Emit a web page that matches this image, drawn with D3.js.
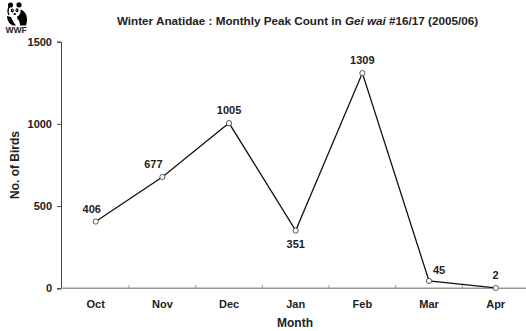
<!DOCTYPE html>
<html><head><meta charset="utf-8">
<script src="https://cdn.jsdelivr.net/npm/d3@7"></script>
<style>
html,body{margin:0;padding:0;background:#fff;}
svg text{font-family:"Liberation Sans",Arial,sans-serif;font-weight:bold;fill:#222;}
</style></head>
<body>
<svg id="c" width="526" height="331"></svg>
<script>
const months = ["Oct","Nov","Dec","Jan","Feb","Mar","Apr"];
const counts = [406,677,1005,351,1309,45,2];
const yTicks = [0,500,1000,1500];
const labelPos = ["above","above","above","below","above","right","above"];

const svg = d3.select("#c");
const x = d3.scaleBand().domain(months).range([62.4,529]);
const y = d3.scaleLinear().domain([0,1500]).range([288.3,41.7]);
const cx = d => x(d) + x.bandwidth()/2;

// Title
const t = svg.append("text").attr("x",297.5).attr("y",25).attr("text-anchor","middle").style("font-size","11.7px");
t.append("tspan").text("Winter Anatidae : Monthly Peak Count in ");
t.append("tspan").style("font-style","italic").text("Gei wai");
t.append("tspan").text(" #16/17 (2005/06)");

// y axis
const yAxis = svg.append("g").attr("transform","translate(61,0)")
  .call(d3.axisLeft(y).tickValues(yTicks).tickSize(4).tickPadding(5).tickFormat(d3.format("d")));
yAxis.select(".domain").attr("stroke","#444");
yAxis.selectAll(".tick line").attr("stroke","#444");
yAxis.selectAll("text").style("font-size","11px").attr("fill","#222");

// x axis
const xAxis = svg.append("g").attr("transform","translate(0,288.3)")
  .call(d3.axisBottom(x).tickSize(0).tickPadding(12));
xAxis.select(".domain").attr("stroke","#999").attr("stroke-width",1.5).attr("d","M61,0H526");
xAxis.selectAll("text").style("font-size","11px").attr("fill","#222");
svg.append("g").selectAll("line").data(months.slice(1)).join("line")
  .attr("x1",d=>x(d)).attr("x2",d=>x(d)).attr("y1",288.3).attr("y2",285).attr("stroke","#999");

// axis titles
svg.append("text").attr("transform","translate(19,165) rotate(-90)").attr("text-anchor","middle").style("font-size","12px").text("No. of Birds");
svg.append("text").attr("x",295).attr("y",327).attr("text-anchor","middle").style("font-size","12px").text("Month");

// line
const data = months.map((m,i)=>({m, v:counts[i], pos:labelPos[i]}));
svg.append("path").datum(data)
  .attr("d", d3.line().x(d=>cx(d.m)).y(d=>y(d.v)))
  .attr("fill","none").attr("stroke","#111").attr("stroke-width",1.3);
svg.append("g").selectAll("circle").data(data).join("circle")
  .attr("cx",d=>cx(d.m)).attr("cy",d=>y(d.v)).attr("r",2.6)
  .attr("fill","#fff").attr("stroke","#444").attr("stroke-width",0.9);

// data labels
svg.append("g").selectAll("text").data(data).join("text")
  .attr("text-anchor","middle").style("font-size","11px")
  .attr("x",(d,i)=>{ const px=cx(d.m); if(d.pos==="right") return px+10; if(i===0) return px-4; if(i===1) return px-9; return px; })
  .attr("y",d=>{ const py=y(d.v); if(d.pos==="below") return py+17; if(d.pos==="right") return py-6.5; return py-9; })
  .text(d=>d.v);

// WWF logo (simplified panda)
const logo = svg.append("g");
// body
logo.append("path").attr("fill","#000")
  .attr("d","M15,9 C21,8 27,12 27,19 C27,22 26.5,24 26,25.5 L20,25.5 C20,22 19,20 17.5,19 Z");
// head (white with outline on left)
logo.append("circle").attr("cx",14.5).attr("cy",11).attr("r",6.2).attr("fill","#fff");
logo.append("path").attr("fill","none").attr("stroke","#000").attr("stroke-width",1.4)
  .attr("d","M12,5 C8,6 7,11 9,15");
// ears
logo.append("circle").attr("cx",10.5).attr("cy",5).attr("r",2.6).attr("fill","#000");
logo.append("circle").attr("cx",19).attr("cy",4.8).attr("r",2.6).attr("fill","#000");
// eye patches
logo.append("ellipse").attr("cx",12.3).attr("cy",10.5).attr("rx",1.5).attr("ry",2).attr("fill","#000");
logo.append("ellipse").attr("cx",17).attr("cy",10.3).attr("rx",1.5).attr("ry",2).attr("fill","#000");
logo.append("circle").attr("cx",12.5).attr("cy",10.2).attr("r",0.5).attr("fill","#fff");
logo.append("circle").attr("cx",16.8).attr("cy",10).attr("r",0.5).attr("fill","#fff");
// nose
logo.append("ellipse").attr("cx",14.8).attr("cy",14).attr("rx",1.3).attr("ry",0.9).attr("fill","#000");
// arm / leg
logo.append("path").attr("fill","#000")
  .attr("d","M7,16 C7,20 9,24 13,25.5 L16,25.5 C14,23 12,20 11,17 Z");
svg.append("text").attr("x",16).attr("y",32.5).attr("text-anchor","middle").style("font-size","8.5px").style("font-weight","900").attr("fill","#000").text("WWF");
</script>
</body></html>
